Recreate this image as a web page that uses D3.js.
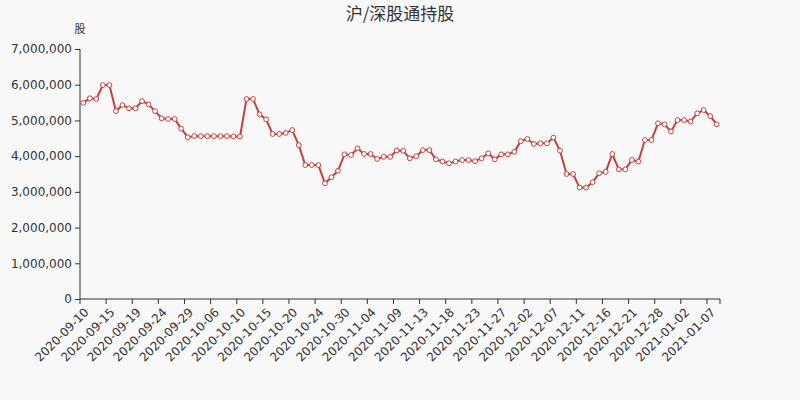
<!DOCTYPE html>
<html><head><meta charset="utf-8">
<script src="https://cdn.jsdelivr.net/npm/d3@7"></script>
<style>
html,body{margin:0;padding:0;background:#f8f8f8;}
svg{display:block;}
</style></head>
<body><svg id="c" width="800" height="400"></svg>
<script>
const title = "沪/深股通持股";
const unitLabel = "股";
const dates = ["2020-09-10","2020-09-11","2020-09-12","2020-09-14","2020-09-15","2020-09-16","2020-09-17","2020-09-18","2020-09-19","2020-09-21","2020-09-22","2020-09-23","2020-09-24","2020-09-25","2020-09-26","2020-09-28","2020-09-29","2020-09-30","2020-10-01","2020-10-03","2020-10-06","2020-10-07","2020-10-08","2020-10-09","2020-10-10","2020-10-12","2020-10-13","2020-10-14","2020-10-15","2020-10-16","2020-10-17","2020-10-19","2020-10-20","2020-10-21","2020-10-22","2020-10-23","2020-10-24","2020-10-27","2020-10-28","2020-10-29","2020-10-30","2020-10-31","2020-11-02","2020-11-03","2020-11-04","2020-11-05","2020-11-06","2020-11-07","2020-11-09","2020-11-10","2020-11-11","2020-11-12","2020-11-13","2020-11-14","2020-11-16","2020-11-17","2020-11-18","2020-11-19","2020-11-20","2020-11-21","2020-11-23","2020-11-24","2020-11-25","2020-11-26","2020-11-27","2020-11-28","2020-11-30","2020-12-01","2020-12-02","2020-12-03","2020-12-04","2020-12-05","2020-12-07","2020-12-08","2020-12-09","2020-12-10","2020-12-11","2020-12-12","2020-12-14","2020-12-15","2020-12-16","2020-12-17","2020-12-18","2020-12-19","2020-12-21","2020-12-22","2020-12-23","2020-12-24","2020-12-28","2020-12-29","2020-12-30","2020-12-31","2021-01-02","2021-01-04","2021-01-05","2021-01-06","2021-01-07","2021-01-08"];
const holdings = [5490000,5620000,5600000,5990000,5990000,5260000,5430000,5340000,5340000,5540000,5450000,5260000,5060000,5040000,5040000,4770000,4530000,4560000,4560000,4560000,4560000,4560000,4560000,4550000,4550000,5600000,5600000,5170000,5030000,4620000,4620000,4650000,4730000,4310000,3750000,3750000,3750000,3240000,3410000,3590000,4050000,4030000,4220000,4060000,4060000,3920000,3980000,3980000,4160000,4150000,3940000,4000000,4170000,4170000,3910000,3850000,3800000,3850000,3890000,3890000,3860000,3940000,4080000,3910000,4050000,4050000,4120000,4420000,4480000,4340000,4360000,4360000,4520000,4150000,3500000,3500000,3120000,3120000,3270000,3520000,3560000,4060000,3630000,3630000,3890000,3850000,4450000,4450000,4920000,4890000,4690000,5010000,5010000,4970000,5200000,5290000,5120000,4890000];
const yTicks = [0,1000000,2000000,3000000,4000000,5000000,6000000,7000000];

const svg = d3.select("#c");
const m = {left:80, right:80, top:49, bottom:101};
const W = 800, H = 400;
const txt = "#333";
const lineColor = "#c4403f";

const x = d3.scaleBand().domain(dates).range([m.left, W - m.right]).paddingInner(0).paddingOuter(0);
const y = d3.scaleLinear().domain([0, 7000000]).range([H - m.bottom, m.top]);

// title
svg.append("text").attr("x", 400).attr("y", 20).attr("text-anchor","middle")
  .attr("font-family","'Noto Sans CJK SC', sans-serif").attr("font-size",17).attr("fill",txt).text(title);
svg.append("text").attr("x", 80).attr("y", 33).attr("text-anchor","middle")
  .attr("font-family","'Noto Sans CJK SC', sans-serif").attr("font-size",11).attr("fill",txt).text(unitLabel);

// y axis
const yAxis = d3.axisLeft(y).tickValues(yTicks).tickSize(5).tickPadding(3).tickFormat(d3.format(","));
const gy = svg.append("g").attr("transform",`translate(${m.left},0)`).call(yAxis);
gy.select(".domain").attr("stroke",txt).attr("d",`M0,${y(7000000)}V${y(0)}`);
gy.selectAll(".tick line").attr("stroke",txt);
gy.selectAll("text").attr("fill",txt).attr("font-family","'DejaVu Sans', sans-serif").attr("font-size",12);

// x axis: ticks at band boundaries every 4, labels at band centers
const gx = svg.append("g").attr("transform",`translate(0,${H - m.bottom})`);
gx.append("path").attr("d",`M${m.left},0H${W - m.right}`).attr("stroke",txt).attr("fill","none");
const labelIdx = dates.map((d,i)=>i).filter(i=>i%4===0);
gx.selectAll(".tk").data(labelIdx.concat([dates.length])).enter().append("line")
  .attr("x1", i => i < dates.length ? x(dates[i]) : W - m.right)
  .attr("x2", i => i < dates.length ? x(dates[i]) : W - m.right)
  .attr("y1",0).attr("y2",5).attr("stroke",txt);
gx.selectAll(".lb").data(labelIdx).enter().append("text")
  .attr("transform", i => `translate(${x(dates[i]) + x.bandwidth()/2},8) rotate(-45)`)
  .attr("text-anchor","end").attr("dy","0.71em")
  .attr("font-family","'DejaVu Sans', sans-serif").attr("font-size",12).attr("fill",txt)
  .text(i => dates[i]);

// line
const cx = d => x(d) + x.bandwidth()/2;
const line = d3.line().x((v,i)=>cx(dates[i])).y(v=>y(v));
svg.append("path").datum(holdings).attr("d",line).attr("fill","none")
  .attr("stroke",lineColor).attr("stroke-width",2).attr("stroke-linejoin","round");
svg.selectAll(".pt").data(holdings).enter().append("circle")
  .attr("cx",(v,i)=>cx(dates[i])).attr("cy",v=>y(v)).attr("r",2.4)
  .attr("fill","#fff").attr("stroke",lineColor).attr("stroke-width",1);
</script></body></html>
